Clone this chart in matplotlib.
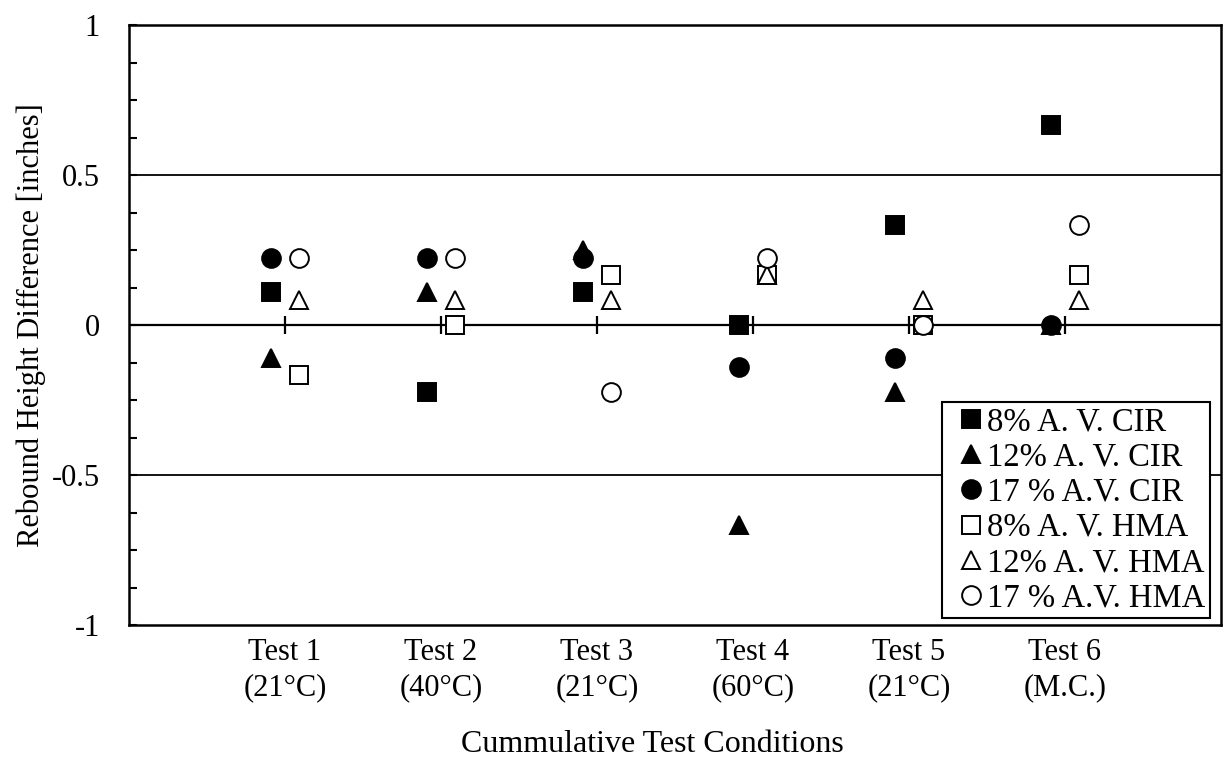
import numpy as np
import matplotlib.pyplot as plt

plt.rcParams['font.family'] = ['Liberation Serif', 'DejaVu Serif']
plt.rcParams['axes.unicode_minus'] = False

# categories and values
tests = ['Test 1\n(21°C)', 'Test 2\n(40°C)', 'Test 3\n(21°C)',
         'Test 4\n(60°C)', 'Test 5\n(21°C)', 'Test 6\n(M.C.)']

cir_8 = [0.111, -0.222, 0.111, 0.0, 0.333, 0.667]
cir_12 = [-0.111, 0.111, 0.25, -0.667, -0.222, 0.0]
cir_17 = [0.222, 0.222, 0.222, -0.139, -0.111, 0.0]
hma_8 = [-0.167, 0.0, 0.167, 0.167, 0.0, 0.167]
hma_12 = [0.083, 0.083, 0.083, 0.167, 0.083, 0.083]
hma_17 = [0.222, 0.222, -0.222, 0.222, 0.0, 0.333]

series = [
    ('8% A. V. CIR', cir_8, 's', 'black', -0.09),
    ('12% A. V. CIR', cir_12, '^', 'black', -0.09),
    ('17 % A.V. CIR', cir_17, 'o', 'black', -0.09),
    ('8% A. V. HMA', hma_8, 's', 'white', 0.09),
    ('12% A. V. HMA', hma_12, '^', 'white', 0.09),
    ('17 % A.V. HMA', hma_17, 'o', 'white', 0.09),
]

fig = plt.figure(figsize=(12.25, 7.61), dpi=100)
ax = fig.add_axes([0.1053, 0.1787, 0.8914, 0.7884])

x = np.arange(1, len(tests) + 1)

# gridlines and the zero axis with category tick marks
for yg in [-0.5, 0.5]:
    ax.axhline(yg, color='black', lw=1.3, zorder=1)
ax.axhline(0, color='black', lw=1.6, zorder=1)
ax.plot(x, np.zeros(len(x)), ls='none', marker='|', ms=13, mew=1.6,
        color='black', zorder=1)

for label, vals, mk, fc, off in series:
    ax.plot(x + off, vals, ls='none', marker=mk, ms=13.5, mfc=fc,
            mec='black', mew=1.4, label=label, zorder=3)

ax.set_xlim(0, len(tests) + 1)
ax.set_ylim(-1, 1)
ax.set_xticks(x)
ax.set_xticklabels(tests, fontsize=22, linespacing=1.3)
ax.tick_params(axis='x', length=0, pad=9)

ax.set_yticks([-1, -0.5, 0, 0.5, 1])
ax.set_yticklabels(['-1', '-0.5', '0', '0.5', '1'], fontsize=22)
ax.set_yticks(np.arange(-1, 1.01, 0.125), minor=True)
ax.tick_params(axis='y', which='both', direction='in', length=6, width=1.5, pad=21)

for sp in ax.spines.values():
    sp.set_linewidth(1.8)

ax.set_xlabel('Cummulative Test Conditions', fontsize=23)
ax.xaxis.set_label_coords(0.479, -0.1757)
ax.set_ylabel('Rebound Height Difference [inches]', fontsize=22)
ax.yaxis.set_label_coords(-0.076, 0.5)

leg = ax.legend(loc='lower right', bbox_to_anchor=(1 - 11 / 1092, 7 / 600),
                borderaxespad=0, fontsize=23.5, handlelength=1.47,
                handletextpad=-0.24, borderpad=0.15, labelspacing=0.14,
                markerscale=1, fancybox=False, framealpha=1,
                edgecolor='black')
leg.get_frame().set_linewidth(1.5)

fig.savefig('out.png', dpi=100)
